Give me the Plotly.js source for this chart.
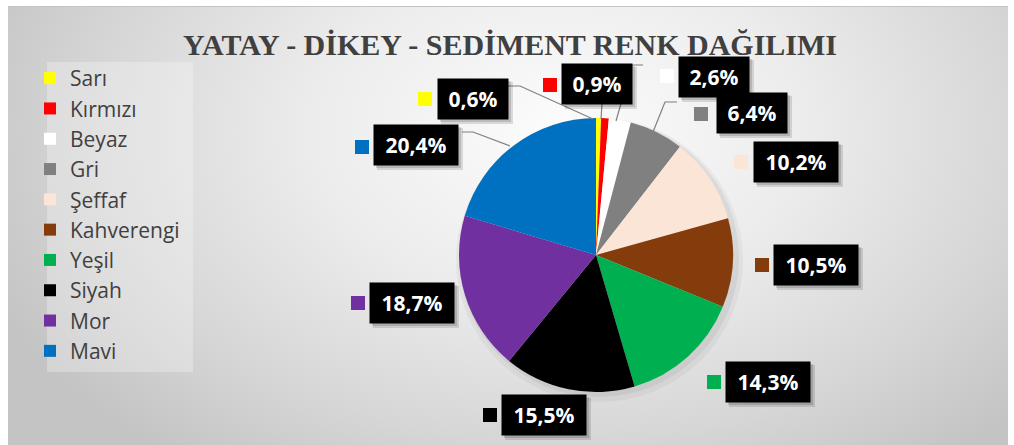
<!DOCTYPE html>
<html>
<head>
<meta charset="utf-8">
<script src="https://cdn.plot.ly/plotly-3.0.1.min.js"></script>
<style>
  html, body { margin: 0; padding: 0; background: #ffffff; }
  #wrap { position: relative; width: 1014px; height: 445px; overflow: hidden; }
  #bg { position: absolute; left: 8px; top: 6px; width: 1000px; height: 439px;
        border-top: 1px solid #c4c4c4;
        background: radial-gradient(ellipse 62% 95% at 55% 28%, #fcfcfc 0%, #ececec 40%, #d6d6d6 75%, #c4c4c4 100%); }
  #chart { position: absolute; left: 0; top: 0; width: 1014px; height: 445px; }
</style>
</head>
<body>
<div id="wrap">
  <div id="bg"></div>
  <div id="chart"></div>
</div>
<script>
// ---- data ----
const categories = ["Sarı", "Kırmızı", "Beyaz", "Gri", "Şeffaf", "Kahverengi", "Yeşil", "Siyah", "Mor", "Mavi"];
const percentages = [0.6, 0.9, 2.6, 6.4, 10.2, 10.5, 14.3, 15.5, 18.7, 20.4];
const chartTitle = "YATAY - DİKEY - SEDİMENT RENK DAĞILIMI";

// ---- style ----
const sliceColors = ["#FFFF00", "#FF0000", "#FFFFFF", "#808080", "#FBE5D6", "#843C0C", "#00B050", "#000000", "#7030A0", "#0070C0"];

// ---- layout helpers (pixel -> paper) ----
const W = 1014, H = 445;
const px = x => x / W;
const py = y => 1 - y / H;

// label box centres and marker square centres (pixels), in category order
const boxCenters = [[473, 99], [597, 84], [714, 77], [752, 113], [796, 162], [816, 265], [768, 382], [544, 415], [412, 303], [416, 145]];
const markCenters = [[425, 99], [550, 85], [667, 76], [701, 114], [741, 162], [762, 265], [714, 382], [490, 415], [358, 303], [362, 147]];
const leaderPaths = [
  [[508, 86], [520, 86], [593, 119]],
  [[602, 104], [601, 119]],
  [[643, 65], [632, 65], [616, 121]],
  [[677, 102], [665, 102], [653, 132]],
  [[462, 132], [473, 132], [510, 146]]
];

const fmt = v => v.toFixed(1).replace('.', ',') + '%';

const shapes = [];
const annotations = [];

// legend panel
shapes.push({type: 'rect', xref: 'paper', yref: 'paper', layer: 'below',
  x0: px(47), x1: px(193), y0: py(372), y1: py(62),
  fillcolor: 'rgba(255,255,255,0.28)', line: {width: 0}});

// pie soft shadow
shapes.push({type: 'circle', xref: 'paper', yref: 'paper', layer: 'below',
  x0: px(598 - 142), x1: px(601 + 142), y0: py(260 + 142), y1: py(260 - 142),
  fillcolor: 'rgba(0,0,0,0.04)', line: {width: 0}});
shapes.push({type: 'circle', xref: 'paper', yref: 'paper', layer: 'below',
  x0: px(598 - 139), x1: px(600 + 139), y0: py(258 + 139), y1: py(258 - 139),
  fillcolor: 'rgba(0,0,0,0.05)', line: {width: 0}});

// leader lines
leaderPaths.forEach(pts => {
  const d = pts.map((p, i) => (i ? 'L' : 'M') + px(p[0]) + ',' + py(p[1])).join(' ');
  shapes.push({type: 'path', xref: 'paper', yref: 'paper', layer: 'above', path: d,
    line: {color: '#7f7f7f', width: 1.2}});
});

percentages.forEach((v, i) => {
  const txt = fmt(v);
  const tw = txt.length >= 5 ? 70 : 56;
  const [cx, cy] = boxCenters[i];
  const bw = tw + 14, bh = 40;
  // drop shadow of label box
  shapes.push({type: 'rect', xref: 'paper', yref: 'paper', layer: 'above',
    x0: px(cx - bw / 2 + 3), x1: px(cx + bw / 2 + 5), y0: py(cy + bh / 2 + 5), y1: py(cy - bh / 2 + 3),
    fillcolor: 'rgba(0,0,0,0.12)', line: {width: 0}});
  shapes.push({type: 'rect', xref: 'paper', yref: 'paper', layer: 'above',
    x0: px(cx - bw / 2 + 2), x1: px(cx + bw / 2 + 3), y0: py(cy + bh / 2 + 3), y1: py(cy - bh / 2 + 2),
    fillcolor: 'rgba(0,0,0,0.14)', line: {width: 0}});
  // colored marker square
  const [mx, my] = markCenters[i];
  shapes.push({type: 'rect', xref: 'paper', yref: 'paper', layer: 'above',
    x0: px(mx - 7), x1: px(mx + 7), y0: py(my + 7), y1: py(my - 7),
    fillcolor: sliceColors[i], line: {width: 0}});
  annotations.push({
    xref: 'paper', yref: 'paper', x: px(cx), y: py(cy), xanchor: 'center', yanchor: 'middle',
    text: '<b>' + txt + '</b>', showarrow: false,
    width: tw, height: 26, borderpad: 7, bgcolor: '#000000',
    font: {family: 'Open Sans, sans-serif', size: 21, color: '#ffffff'}
  });
});

const trace = {
  type: 'pie',
  labels: categories,
  values: percentages,
  sort: false,
  direction: 'clockwise',
  rotation: 0,
  textinfo: 'none',
  hoverinfo: 'label+value',
  marker: {colors: sliceColors, line: {width: 0}},
  domain: {x: [px(459), px(733)], y: [py(392), py(118)]}
};

const layout = {
  width: W, height: H,
  margin: {l: 0, r: 0, t: 0, b: 0},
  paper_bgcolor: 'rgba(0,0,0,0)',
  plot_bgcolor: 'rgba(0,0,0,0)',
  title: {
    text: '<b>' + chartTitle + '</b>',
    x: 0.503, xanchor: 'center', y: 1 - 44 / H, yanchor: 'middle',
    font: {family: 'Liberation Serif, serif', size: 30, color: '#404040'}
  },
  showlegend: true,
  legend: {
    x: px(30), xanchor: 'left', y: py(58), yanchor: 'top',
    bgcolor: 'rgba(0,0,0,0)', borderwidth: 0,
    font: {family: 'Open Sans, sans-serif', size: 21, color: '#404040'},
    traceorder: 'normal'
  },
  shapes: shapes,
  annotations: annotations
};

Plotly.newPlot('chart', [trace], layout, {displayModeBar: false, staticPlot: true});
</script>
</body>
</html>
